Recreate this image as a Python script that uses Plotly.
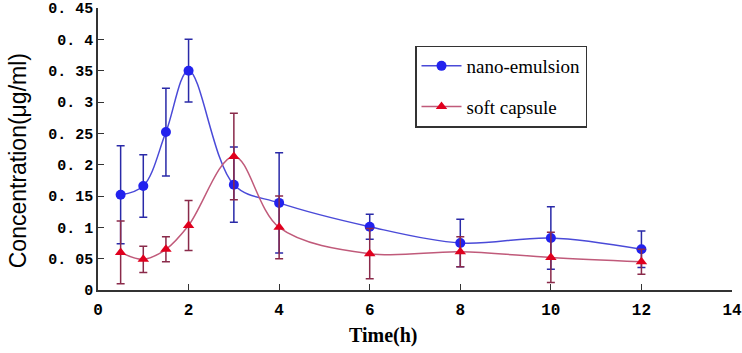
import plotly.graph_objects as go

time_h = [0.5, 1, 1.5, 2, 3, 4, 6, 8, 10, 12]
nano_emulsion = [0.152, 0.166, 0.252, 0.350, 0.168, 0.139, 0.101, 0.075, 0.083, 0.065]
nano_err = [0.078, 0.050, 0.070, 0.050, 0.060, 0.080, 0.020, 0.038, 0.050, 0.029]
soft_capsule = [0.060, 0.049, 0.065, 0.103, 0.213, 0.100, 0.058, 0.061, 0.052, 0.045]
soft_err = [0.050, 0.021, 0.020, 0.040, 0.069, 0.050, 0.040, 0.024, 0.040, 0.020]

y_ticks = [0, 0.05, 0.1, 0.15, 0.2, 0.25, 0.3, 0.35, 0.4, 0.45]
y_tick_text = ["0", "0. 05", "0. 1", "0. 15", "0. 2", "0. 25", "0. 3", "0. 35", "0. 4", "0. 45"]
x_ticks = [0, 2, 4, 6, 8, 10, 12, 14]

fig = go.Figure()
fig.add_trace(go.Scatter(
    x=time_h, y=nano_emulsion, name="nano-emulsion", mode="lines+markers",
    line=dict(color="#4a4ad8", width=1.5, shape="spline", smoothing=1.0),
    marker=dict(symbol="circle", size=10, color="#2222ee"),
    error_y=dict(type="data", array=nano_err, visible=True, color="#2a2aa8", thickness=1.5, width=4),
    legendgroup="a",
))
fig.add_trace(go.Scatter(
    x=time_h, y=soft_capsule, name="soft capsule", mode="lines+markers",
    line=dict(color="#c05a7a", width=1.5, shape="spline", smoothing=1.0),
    marker=dict(symbol="triangle-up", size=10, color="#e0001e"),
    error_y=dict(type="data", array=soft_err, visible=True, color="#8a2a4a", thickness=1.5, width=4),
    legendgroup="b",
))

fig.update_layout(
    width=742, height=353,
    margin=dict(l=98, r=10, t=8, b=63, autoexpand=False),
    paper_bgcolor="white", plot_bgcolor="white",
    showlegend=True,
    legend=dict(
        x=0.5, y=0.867, xanchor="left", yanchor="top",
        bordercolor="#333333", borderwidth=1.5, bgcolor="white",
        font=dict(family="Liberation Serif", size=19, color="black"),
        traceorder="grouped", tracegroupgap=13,
        itemwidth=40,
    ),
    xaxis=dict(
        range=[0, 14], tickvals=x_ticks, showline=True, linecolor="#333333", linewidth=1.5,
        ticks="inside", ticklen=6, tickcolor="#333333", showgrid=False, zeroline=False,
        automargin=False, ticklabeloverflow="allow", ticklabelstandoff=4,
        tickfont=dict(family="Liberation Mono", size=16, color="black", weight="bold"),
    ),
    yaxis=dict(
        range=[0, 0.45], tickvals=y_ticks, ticktext=y_tick_text, showline=True, linecolor="#333333", linewidth=1.5,
        ticks="inside", ticklen=6, tickcolor="#333333", showgrid=False, zeroline=False,
        automargin=False, ticklabeloverflow="allow",
        tickfont=dict(family="Liberation Mono", size=15, color="black", weight="bold"),
    ),
    annotations=[
        dict(
            text="<b>Time(h)</b>", xref="paper", yref="paper", x=0.451, y=-0.16,
            xanchor="center", yanchor="middle", showarrow=False,
            font=dict(family="Liberation Serif", size=20, color="black"),
        ),
        dict(
            text="Concentration(μg/ml)", xref="paper", yref="paper", x=-0.126, y=0.457,
            xanchor="center", yanchor="middle", showarrow=False, textangle=-90,
            font=dict(family="Liberation Sans", size=23, color="black"),
        ),
    ],
)

fig.write_html("out.html", config={"displayModeBar": False},
               post_script="document.body.style.margin='0';")
